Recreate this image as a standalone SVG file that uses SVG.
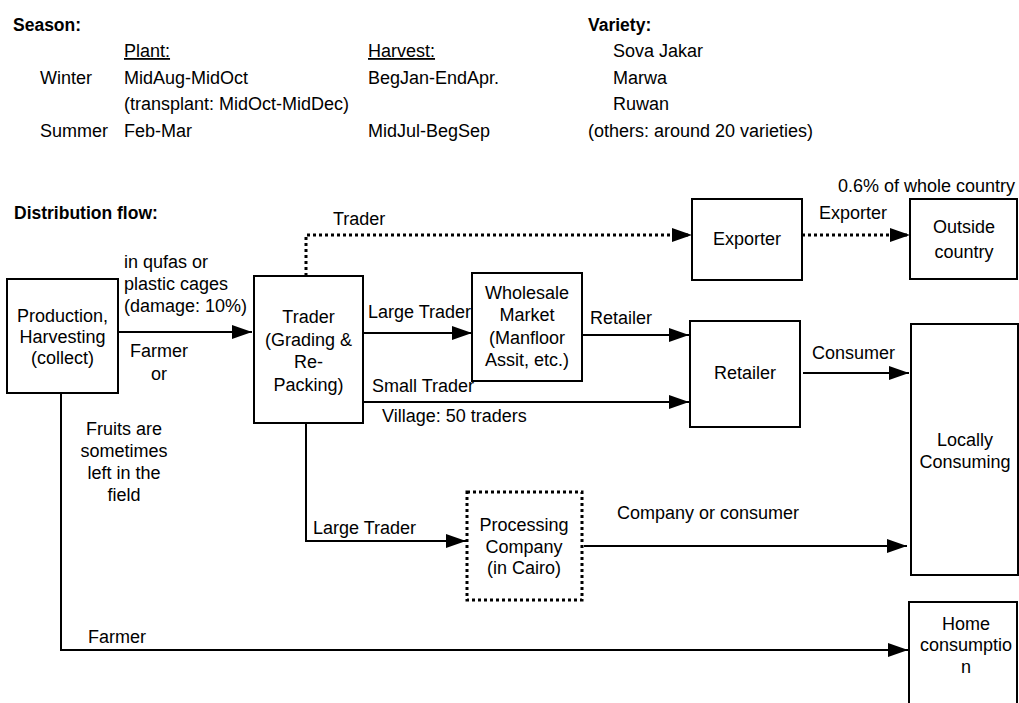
<svg xmlns="http://www.w3.org/2000/svg" width="1019" height="703" viewBox="0 0 1019 703">
  <defs>
    <style>
      text { font-family: "Liberation Sans", Arial, sans-serif; font-size: 18px; fill: #000; }
      .h { font-weight: bold; font-size: 17.5px; }
      .c { text-anchor: middle; }
      .u { text-decoration: underline; }
      .box { fill: #fff; stroke: #000; stroke-width: 2; }
      .dbox { fill: #fff; stroke: #000; stroke-width: 3; stroke-dasharray: 3 3; }
      .ln { fill: none; stroke: #000; stroke-width: 2; }
      .dl { fill: none; stroke: #000; stroke-width: 3; stroke-dasharray: 3 3; }
    </style>
    <marker id="ah" markerUnits="userSpaceOnUse" markerWidth="20" markerHeight="14" refX="20" refY="7" orient="auto">
      <path d="M0,0 L20,7 L0,14 z" fill="#000"/>
    </marker>
  </defs>
  <rect width="1019" height="703" fill="#fff"/>

  <!-- season table -->
  <g id="season">
    <text class="h" x="13" y="31">Season:</text>
    <text class="u" x="124" y="57">Plant:</text>
    <text class="u" x="368" y="57">Harvest:</text>
    <text x="40" y="84">Winter</text>
    <text x="124" y="84">MidAug-MidOct</text>
    <text x="368" y="84">BegJan-EndApr.</text>
    <text x="124" y="110">(transplant: MidOct-MidDec)</text>
    <text x="40" y="137">Summer</text>
    <text x="124" y="137">Feb-Mar</text>
    <text x="368" y="137">MidJul-BegSep</text>
  </g>

  <!-- variety list -->
  <g id="variety">
    <text class="h" x="588" y="31">Variety:</text>
    <text x="613" y="57">Sova Jakar</text>
    <text x="613" y="84">Marwa</text>
    <text x="613" y="110">Ruwan</text>
    <text x="588" y="137">(others: around 20 varieties)</text>
  </g>

  <text class="h" x="14" y="219">Distribution flow:</text>
  <text x="838" y="192">0.6% of whole country</text>

  <!-- connectors -->
  <g id="connectors">
    <path class="dl" d="M306,276 V235 H692" marker-end="url(#ah)"/>
    <path class="dl" d="M802,235 H910" marker-end="url(#ah)"/>
    <path class="ln" d="M118,332 H252" marker-end="url(#ah)"/>
    <path class="ln" d="M363,333 H472" marker-end="url(#ah)"/>
    <path class="ln" d="M582,335 H689" marker-end="url(#ah)"/>
    <path class="ln" d="M363,402 H689" marker-end="url(#ah)"/>
    <path class="ln" d="M803,373 H909" marker-end="url(#ah)"/>
    <path class="ln" d="M306,423 V541 H466" marker-end="url(#ah)"/>
    <path class="ln" d="M584,546 H907" marker-end="url(#ah)"/>
    <path class="ln" d="M61,393 V650 H908" marker-end="url(#ah)"/>

    <text x="333" y="225">Trader</text>
    <text x="819" y="219">Exporter</text>
    <text x="124" y="268">in qufas or</text>
    <text x="124" y="290">plastic cages</text>
    <text x="124" y="312">(damage: 10%)</text>
    <text x="130" y="357">Farmer</text>
    <text x="151" y="380">or</text>
    <text x="368" y="318">Large Trader</text>
    <text x="590" y="324">Retailer</text>
    <text x="372" y="392">Small Trader</text>
    <text x="382" y="422">Village: 50 traders</text>
    <text x="812" y="359">Consumer</text>
    <text x="313" y="534">Large Trader</text>
    <text x="617" y="519">Company or consumer</text>
    <text x="88" y="643">Farmer</text>
    <text class="c" x="124" y="435">Fruits are</text>
    <text class="c" x="124" y="457">sometimes</text>
    <text class="c" x="124" y="479">left in the</text>
    <text class="c" x="124" y="501">field</text>
  </g>

  <g id="production">
    <rect class="box" x="7" y="279" width="111" height="114"/>
    <text class="c" x="62.5" y="322">Production,</text>
    <text class="c" x="62.5" y="343">Harvesting</text>
    <text class="c" x="62.5" y="364">(collect)</text>
  </g>

  <g id="trader">
    <rect class="box" x="254" y="276" width="109" height="147"/>
    <text class="c" x="308.5" y="323">Trader</text>
    <text class="c" x="308.5" y="346">(Grading &amp;</text>
    <text class="c" x="308.5" y="368">Re-</text>
    <text class="c" x="308.5" y="391">Packing)</text>
  </g>

  <g id="wholesale">
    <rect class="box" x="472" y="273" width="110" height="108"/>
    <text class="c" x="527" y="299">Wholesale</text>
    <text class="c" x="527" y="321">Market</text>
    <text class="c" x="527" y="344">(Manfloor</text>
    <text class="c" x="527" y="366">Assit, etc.)</text>
  </g>

  <g id="exporter">
    <rect class="box" x="692" y="199" width="110" height="81"/>
    <text class="c" x="747" y="245">Exporter</text>
  </g>

  <g id="outside">
    <rect class="box" x="910" y="199" width="107" height="80"/>
    <text class="c" x="964" y="233">Outside</text>
    <text class="c" x="964" y="258">country</text>
  </g>

  <g id="retailer">
    <rect class="box" x="690" y="321" width="110" height="106"/>
    <text class="c" x="745" y="379">Retailer</text>
  </g>

  <g id="locally">
    <rect class="box" x="911" y="324" width="107" height="251"/>
    <text class="c" x="965" y="446">Locally</text>
    <text class="c" x="965" y="468">Consuming</text>
  </g>

  <g id="processing">
    <rect class="dbox" x="467" y="492" width="115" height="108"/>
    <text class="c" x="524" y="531">Processing</text>
    <text class="c" x="524" y="553">Company</text>
    <text class="c" x="524" y="574">(in Cairo)</text>
  </g>

  <g id="home">
    <rect class="box" x="909" y="602" width="108" height="110"/>
    <text class="c" x="966" y="630">Home</text>
    <text class="c" x="966" y="651">consumptio</text>
    <text class="c" x="966" y="673">n</text>
  </g>
</svg>
